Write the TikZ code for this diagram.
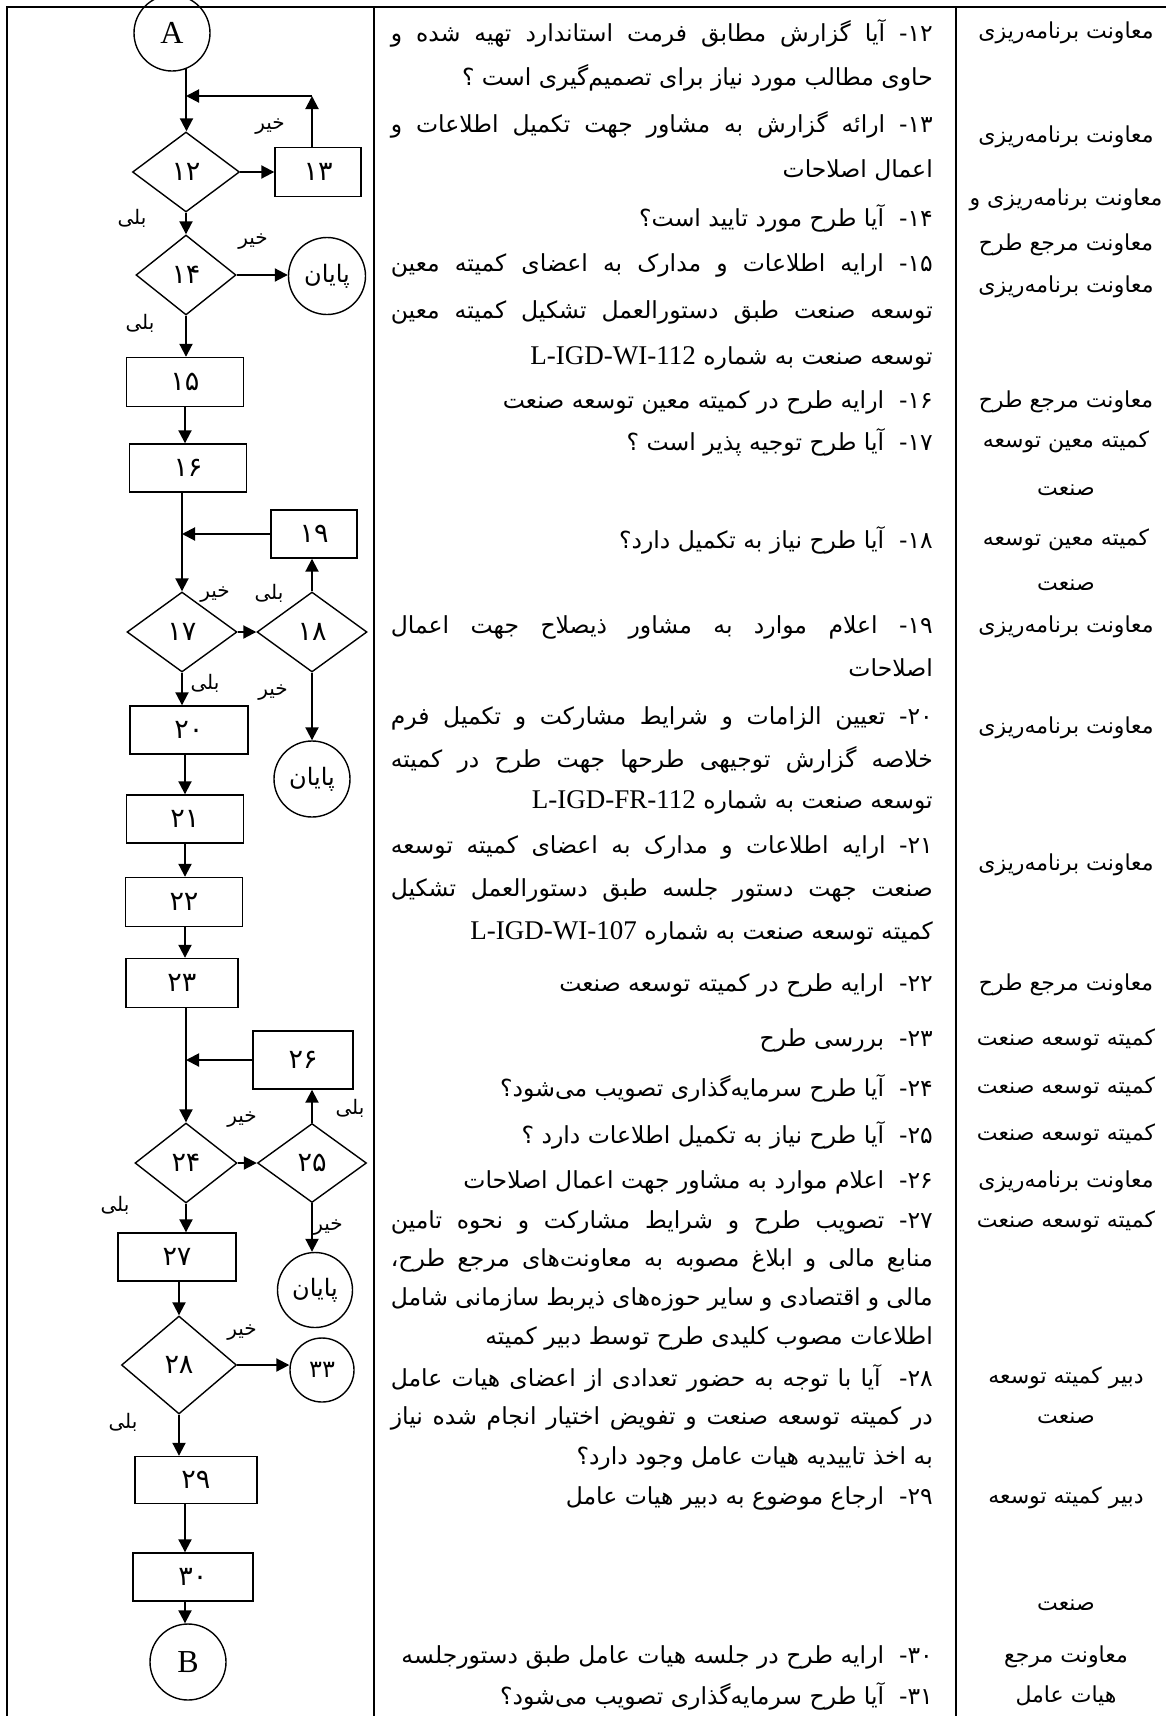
\documentclass[tikz,border=0pt]{standalone}
\usepackage{fontspec}
\usetikzlibrary{shapes.geometric,arrows.meta}
\TeXXeTstate=1
\newfontfamily\fa[Script=Arabic]{DejaVu Sans}
\newfontfamily\lat{Liberation Serif}
\newcommand\tw{542pt}
\newcommand\jl[1]{\hbox to \tw{\beginR\spaceskip=.3em plus 1fil minus .2em\relax #1\endR}}
\newcommand\rg[1]{\hbox to \tw{\beginR #1\hfil\endR}}
\newcommand\rl[1]{\beginR #1\endR}
\newcommand\num[1]{#1\kern0pt-}
\newcommand\code[1]{\hbox{\lat\fontsize{27}{27}\selectfont #1}}
\tikzset{
  fr/.style={line width=2.2pt},
  box/.style={draw, line width=1.4pt, rectangle, inner sep=0pt, font=\fa\fontsize{27}{27}\selectfont},
  dia/.style={draw, line width=1.4pt, diamond, inner sep=0pt, font=\fa\fontsize{27}{27}\selectfont},
  crc/.style={draw, line width=1.4pt, circle, inner sep=0pt, font=\fa\fontsize{24}{24}\selectfont},
  arr/.style={line width=2pt, -{Triangle[length=13pt,width=13pt]}},
  lbl/.style={font=\fa\fontsize{20}{20}\selectfont, inner sep=0pt},
  tx/.style={font=\fa\fontsize{23.5}{27}\selectfont, inner sep=0pt, anchor=east},
  rt/.style={font=\fa\fontsize{22}{26}\selectfont, inner sep=0pt}
}
\begin{document}
\begin{tikzpicture}[x=1pt,y=-1pt]
\useasboundingbox (0,0) rectangle (1166,1716);
\fill[white] (0,0) rectangle (1166,1716);
% frame
\draw[fr] (7,1716) -- (7,7) -- (1166,7);
\draw[fr] (374,7) -- (374,1716);
\draw[fr] (956,7) -- (956,1716);
\coordinate (sp) at (185,0);
% flowchart nodes
\node[crc, minimum size=76pt, font=\lat\fontsize{32}{32}\selectfont] (A) at (172,33) {A};
\node[dia, minimum width=107pt, minimum height=80pt] (d12) at (186,172) {۱۲};
\node[box, minimum width=86pt, minimum height=49pt] (b13) at (318,172) {۱۳};
\node[dia, minimum width=100pt, minimum height=80pt] (d14) at (186,275) {۱۴};
\node[crc, minimum size=77pt] (e1) at (327,276) {پایان};
\node[box, minimum width=117pt, minimum height=49pt] (b15) at (185,382) {۱۵};
\node[box, minimum width=117pt, minimum height=48pt] (b16) at (188,468) {۱۶};
\node[box, minimum width=86pt, minimum height=48pt] (b19) at (314,534) {۱۹};
\node[dia, minimum width=110pt, minimum height=80pt] (d17) at (182,632) {۱۷};
\node[dia, minimum width=110pt, minimum height=80pt] (d18) at (312,632) {۱۸};
\node[crc, minimum size=76pt] (e2) at (312,779) {پایان};
\node[box, minimum width=118pt, minimum height=48pt] (b20) at (189,730) {۲۰};
\node[box, minimum width=117pt, minimum height=48pt] (b21) at (185,819) {۲۱};
\node[box, minimum width=117pt, minimum height=49pt] (b22) at (184,902) {۲۲};
\node[box, minimum width=112pt, minimum height=49pt] (b23) at (182,983) {۲۳};
\node[box, minimum width=100pt, minimum height=58pt] (b26) at (303,1060) {۲۶};
\node[dia, minimum width=102pt, minimum height=80pt] (d24) at (186,1163) {۲۴};
\node[dia, minimum width=109pt, minimum height=79pt] (d25) at (312,1163) {۲۵};
\node[crc, minimum size=75pt] (e3) at (315,1290) {پایان};
\node[box, minimum width=118pt, minimum height=48pt] (b27) at (177,1257) {۲۷};
\node[dia, minimum width=115pt, minimum height=98pt] (d28) at (179,1365) {۲۸};
\node[crc, minimum size=64pt] (c33) at (322,1370) {۳۳};
\node[box, minimum width=122pt, minimum height=47pt] (b29) at (196,1480) {۲۹};
\node[box, minimum width=120pt, minimum height=48pt] (b30) at (193,1577) {۳۰};
\node[crc, minimum size=76pt, font=\lat\fontsize{32}{32}\selectfont] (B) at (188,1662) {B};
\coordinate (j1) at (186,96);
\coordinate (c1) at (312,96);
% connectors
\draw[arr] (A.-68) -- (A.-68 |- d12.north);
\draw[arr] (b13.north -| c1) -- (c1);
\draw[arr] (c1) -- (j1);
\draw[arr] (d12.east) -- (b13.west);
\draw[arr] (d12.south) -- (d14.north);
\draw[arr] (d14.east) -- (d14.east -| e1.west);
\draw[arr] (d14.south) -- (d14.south |- b15.north);
\draw[arr] (b15.south -| sp) -- (b16.north -| sp);
\draw[arr] (b16.south -| d17.north) -- (d17.north);
\draw[arr] (b19.west) -- (b19.west -| d17.north);
\draw[arr] (d17.east) -- (d18.west);
\draw[arr] (d18.north) -- (d18.north |- b19.south);
\draw[arr] (d17.south) -- (d17.south |- b20.north);
\draw[arr] (d18.south) -- (e2.north);
\draw[arr] (b20.south -| sp) -- (b21.north -| sp);
\draw[arr] (b21.south -| sp) -- (b22.north -| sp);
\draw[arr] (b22.south -| sp) -- (b23.north -| sp);
\draw[arr] (b23.south -| d24.north) -- (d24.north);
\draw[arr] (b26.west) -- (b26.west -| d24.north);
\draw[arr] (d24.east) -- (d25.west);
\draw[arr] (d25.north) -- (d25.north |- b26.south);
\draw[arr] (d24.south) -- (d24.south |- b27.north);
\draw[arr] (d25.south) -- (d25.south |- e3.north);
\draw[arr] (b27.south -| d28.north) -- (d28.north);
\draw[arr] (d28.east) -- (d28.east -| c33.west);
\draw[arr] (d28.south) -- (d28.south |- b29.north);
\draw[arr] (b29.south -| sp) -- (b30.north -| sp);
\draw[arr] (b30.south -| sp) -- (B.north -| sp);
% yes/no labels
\node[lbl] (n12) at (270,127) {خیر};
\node[lbl] (y12) at (132,218) {بلی};
\node[lbl] (n14) at (253,242) {خیر};
\node[lbl] (y14) at (140,323) {بلی};
\node[lbl] (n17) at (215,595) {خیر};
\node[lbl] (y18) at (269,593) {بلی};
\node[lbl] (y17) at (205,683) {بلی};
\node[lbl] (n18) at (273,693) {خیر};
\node[lbl] (y25) at (350,1108) {بلی};
\node[lbl] (n24) at (242,1120) {خیر};
\node[lbl] (y24) at (115,1205) {بلی};
\node[lbl] (n25) at (328,1228) {خیر};
\node[lbl] (n28) at (242,1333) {خیر};
\node[lbl] (y28) at (123,1422) {بلی};
% description column
\node[tx] (t1) at (933,33) {\jl{\num{۱۲} آیا گزارش مطابق فرمت استاندارد تهیه شده و}};
\node[tx] (t2) at (933,78) {\rg{حاوی مطالب مورد نیاز برای تصمیم^^^^200cگیری است ؟}};
\node[tx] (t3) at (933,125) {\jl{\num{۱۳} ارائه گزارش به مشاور جهت تکمیل اطلاعات و}};
\node[tx] (t4) at (933,170) {\rg{اعمال اصلاحات}};
\node[tx] (t5) at (933,218) {\rg{\num{۱۴}~ آیا طرح مورد تایید است؟}};
\node[tx] (t6) at (933,265) {\jl{\num{۱۵} ارایه اطلاعات و مدارک به اعضای کمیته معین}};
\node[tx] (t7) at (933,312) {\jl{توسعه صنعت طبق دستورالعمل تشکیل کمیته معین}};
\node[tx] (t8) at (933,358) {\rg{توسعه صنعت به شماره \code{L-IGD-WI-112}}};
\node[tx] (t9) at (933,402) {\rg{\num{۱۶}~ ارایه طرح در کمیته معین توسعه صنعت}};
\node[tx] (t10) at (933,442) {\rg{\num{۱۷}~ آیا طرح توجیه پذیر است ؟}};
\node[tx] (t11) at (933,540) {\rg{\num{۱۸}~ آیا طرح نیاز به تکمیل دارد؟}};
\node[tx] (t12) at (933,627) {\jl{\num{۱۹} اعلام موارد به مشاور ذیصلاح جهت اعمال}};
\node[tx] (t13) at (933,668) {\rg{اصلاحات}};
\node[tx] (t14) at (933,718) {\jl{\num{۲۰} تعیین الزامات و شرایط مشارکت و تکمیل فرم}};
\node[tx] (t15) at (933,760) {\jl{خلاصه گزارش توجیهی طرحها جهت طرح در کمیته}};
\node[tx] (t16) at (933,802) {\rg{توسعه صنعت به شماره \code{L-IGD-FR-112}}};
\node[tx] (t17) at (933,847) {\jl{\num{۲۱} ارایه اطلاعات و مدارک به اعضای کمیته توسعه}};
\node[tx] (t18) at (933,890) {\jl{صنعت جهت دستور جلسه طبق دستورالعمل تشکیل}};
\node[tx] (t19) at (933,933) {\rg{کمیته توسعه صنعت به شماره \code{L-IGD-WI-107}}};
\node[tx] (t20) at (933,985) {\rg{\num{۲۲}~ ارایه طرح در کمیته توسعه صنعت}};
\node[tx] (t21) at (933,1040) {\rg{\num{۲۳}~ بررسی طرح}};
\node[tx] (t22) at (933,1088) {\rg{\num{۲۴}~ آیا طرح سرمایه^^^^200cگذاری تصویب می^^^^200cشود؟}};
\node[tx] (t23) at (933,1135) {\rg{\num{۲۵}~ آیا طرح نیاز به تکمیل اطلاعات دارد ؟}};
\node[tx] (t24) at (933,1182) {\rg{\num{۲۶}~ اعلام موارد به مشاور جهت اعمال اصلاحات}};
\node[tx] (t25) at (933,1222) {\jl{\num{۲۷} تصویب طرح و شرایط مشارکت و نحوه تامین}};
\node[tx] (t26) at (933,1260) {\jl{منابع مالی و ابلاغ مصوبه به معاونت^^^^200cهای مرجع طرح،}};
\node[tx] (t27) at (933,1299) {\jl{مالی و اقتصادی و سایر حوزه^^^^200cهای ذیربط سازمانی شامل}};
\node[tx] (t28) at (933,1338) {\rg{اطلاعات مصوب کلیدی طرح توسط دبیر کمیته}};
\node[tx] (t29) at (933,1378) {\jl{\num{۲۸}~ آیا با توجه به حضور تعدادی از اعضای هیات عامل}};
\node[tx] (t30) at (933,1418) {\jl{در کمیته توسعه صنعت و تفویض اختیار انجام شده نیاز}};
\node[tx] (t31) at (933,1458) {\rg{به اخذ تاییدیه هیات عامل وجود دارد؟}};
\node[tx] (t32) at (933,1498) {\rg{\num{۲۹}~ ارجاع موضوع به دبیر هیات عامل}};
\node[tx] (t33) at (933,1657) {\rg{\num{۳۰}~ ارایه طرح در جلسه هیات عامل طبق دستورجلسه}};
\node[tx] (t34) at (933,1696) {\rg{\num{۳۱}~ آیا طرح سرمایه^^^^200cگذاری تصویب می^^^^200cشود؟}};
% responsibility column
\node[rt] (r1) at (1066,33) {\rl{معاونت برنامه^^^^200cریزی}};
\node[rt] (r2) at (1066,137) {\rl{معاونت برنامه^^^^200cریزی}};
\node[rt] (r3) at (1066,200) {\rl{معاونت برنامه^^^^200cریزی و}};
\node[rt] (r4) at (1066,245) {\rl{معاونت مرجع طرح}};
\node[rt] (r5) at (1066,287) {\rl{معاونت برنامه^^^^200cریزی}};
\node[rt] (r6) at (1066,402) {\rl{معاونت مرجع طرح}};
\node[rt] (r7) at (1066,442) {\rl{کمیته معین توسعه}};
\node[rt] (r8) at (1066,490) {\rl{صنعت}};
\node[rt] (r9) at (1066,540) {\rl{کمیته معین توسعه}};
\node[rt] (r10) at (1066,585) {\rl{صنعت}};
\node[rt] (r11) at (1066,627) {\rl{معاونت برنامه^^^^200cریزی}};
\node[rt] (r12) at (1066,728) {\rl{معاونت برنامه^^^^200cریزی}};
\node[rt] (r13) at (1066,865) {\rl{معاونت برنامه^^^^200cریزی}};
\node[rt] (r14) at (1066,985) {\rl{معاونت مرجع طرح}};
\node[rt] (r15) at (1066,1040) {\rl{کمیته توسعه صنعت}};
\node[rt] (r16) at (1066,1088) {\rl{کمیته توسعه صنعت}};
\node[rt] (r17) at (1066,1135) {\rl{کمیته توسعه صنعت}};
\node[rt] (r18) at (1066,1182) {\rl{معاونت برنامه^^^^200cریزی}};
\node[rt] (r19) at (1066,1222) {\rl{کمیته توسعه صنعت}};
\node[rt] (r20) at (1066,1378) {\rl{دبیر کمیته توسعه}};
\node[rt] (r21) at (1066,1418) {\rl{صنعت}};
\node[rt] (r22) at (1066,1498) {\rl{دبیر کمیته توسعه}};
\node[rt] (r23) at (1066,1605) {\rl{صنعت}};
\node[rt] (r24) at (1066,1657) {\rl{معاونت مرجع}};
\node[rt] (r25) at (1066,1696) {\rl{هیات عامل}};
\end{tikzpicture}
\end{document}
